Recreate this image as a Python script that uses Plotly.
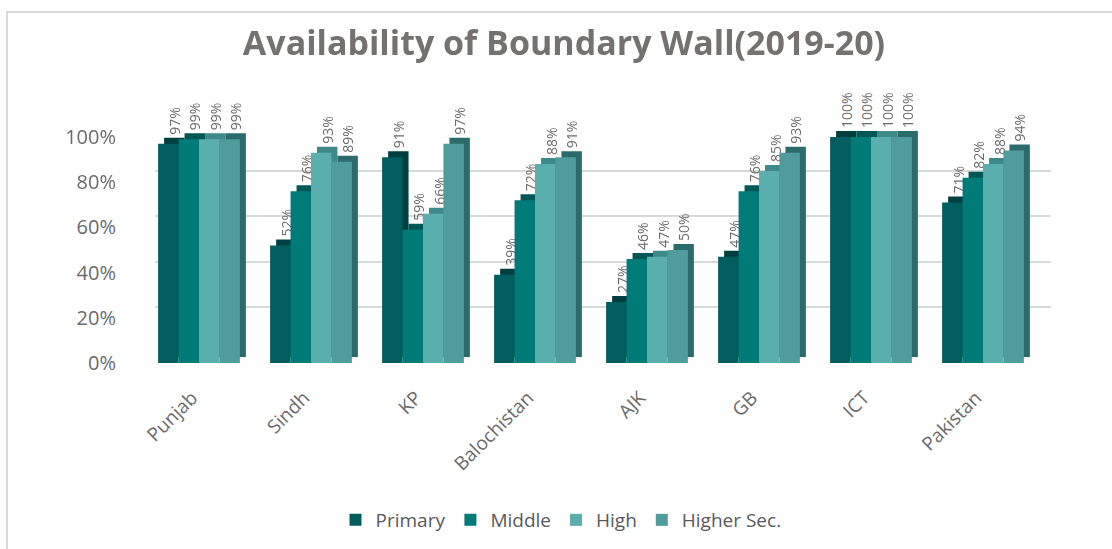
import plotly.graph_objects as go

categories = ["Punjab", "Sindh", "KP", "Balochistan", "AJK", "GB", "ICT", "Pakistan"]
series_names = ["Primary", "Middle", "High", "Higher Sec."]
primary = [97, 52, 91, 39, 27, 47, 100, 71]
middle = [99, 76, 59, 72, 46, 76, 100, 82]
high = [99, 93, 66, 88, 47, 85, 100, 88]
higher_sec = [99, 89, 97, 91, 50, 93, 100, 94]
y_ticks = [0, 20, 40, 60, 80, 100]
y_tick_text = ["0%", "20%", "40%", "60%", "80%", "100%"]
x_tick_text = [c + "\u00a0\u00a0" for c in categories]

front_colors = ["#005e5f", "#007b78", "#5aaead", "#509c9c"]
depth_colors = ["#003f40", "#005654", "#3e8a8a", "#2c6b6b"]
series = [primary, middle, high, higher_sec]

W, H = 1112, 549
FONT = "Open Sans"
GREY = "#6b6b6b"


def px_x(a, b):
    return [a / W, b / W]


def px_y(bottom, top):
    return [1 - bottom / H, 1 - top / H]


fig = go.Figure()

# back wall gridlines subplot (drawn first)
fig.add_trace(go.Scatter(x=categories, y=primary, xaxis="x", yaxis="y",
                         mode="markers", opacity=0, showlegend=False,
                         hoverinfo="skip"))

# depth (side/top faces) bars
for name, vals, col in zip(series_names, series, depth_colors):
    fig.add_trace(go.Bar(
        x=categories, y=vals, name=name, xaxis="x2", yaxis="y2",
        marker=dict(color=col, line=dict(width=0)),
        showlegend=False, hoverinfo="skip",
        texttemplate="%{y}%", textposition="outside", textangle=-90,
        constraintext="none", cliponaxis=False,
        textfont=dict(family=FONT, size=14, color=GREY),
    ))

# front faces
for name, vals, col in zip(series_names, series, front_colors):
    fig.add_trace(go.Bar(
        x=categories, y=vals, name=name, xaxis="x3", yaxis="y3",
        marker=dict(color=col, line=dict(width=0)),
        cliponaxis=False,
    ))

fig.update_layout(
    width=W, height=H,
    margin=dict(l=0, r=0, t=0, b=0, autoexpand=False),
    paper_bgcolor="white", plot_bgcolor="rgba(0,0,0,0)",
    barmode="group", bargap=0.27, bargroupgap=0,
    title=dict(text="Availability of Boundary Wall(2019-20)",
               x=564 / W, xanchor="center", y=1 - 43 / H, yanchor="middle",
               font=dict(family=FONT, size=34, color="#767171", weight=700)),
    legend=dict(orientation="h", x=561 / W, xanchor="center",
                y=1 - 520 / H, yanchor="middle",
                font=dict(family=FONT, size=19, color="#595959"),
                itemwidth=30, traceorder="normal"),
    xaxis=dict(domain=px_x(155, 1051), anchor="y", type="category",
               showgrid=False, showticklabels=False, zeroline=False,
               showline=False, ticks=""),
    yaxis=dict(domain=px_y(352, 126), anchor="x", range=[0, 100],
               tickvals=y_ticks, showgrid=True, gridcolor="#d9d9d9",
               gridwidth=2, showticklabels=False, zeroline=False,
               showline=False, ticks=""),
    xaxis2=dict(domain=px_x(149, 1045), anchor="y2", type="category",
                showgrid=False, showticklabels=False, zeroline=False,
                showline=False, ticks=""),
    yaxis2=dict(domain=px_y(357, 131), anchor="x2", range=[0, 100],
                showgrid=False, showticklabels=False, zeroline=False,
                showline=False, ticks=""),
    xaxis3=dict(domain=px_x(143, 1039), anchor="y3", type="category",
                tickvals=categories, ticktext=x_tick_text,
                showgrid=False, zeroline=False, showline=False, ticks="",
                tickangle=-45, ticklabelstandoff=12, automargin=False,
                tickfont=dict(family=FONT, size=19, color=GREY)),
    yaxis3=dict(domain=px_y(363, 137), anchor="x3", range=[0, 100],
                tickvals=y_ticks, ticktext=y_tick_text, showgrid=False,
                zeroline=False, showline=False, ticks="",
                ticklabelstandoff=26, automargin=False,
                tickfont=dict(family=FONT, size=20, color=GREY)),
    shapes=[dict(type="rect", xref="paper", yref="paper",
                 x0=7 / W, x1=1.02, y0=-0.02, y1=1 - 12 / H,
                 line=dict(color="#d9d9d9", width=2), layer="below")],
)

fig.write_html("out.html",
               config={"displayModeBar": False},
               post_script="document.body.style.margin='0px';")
